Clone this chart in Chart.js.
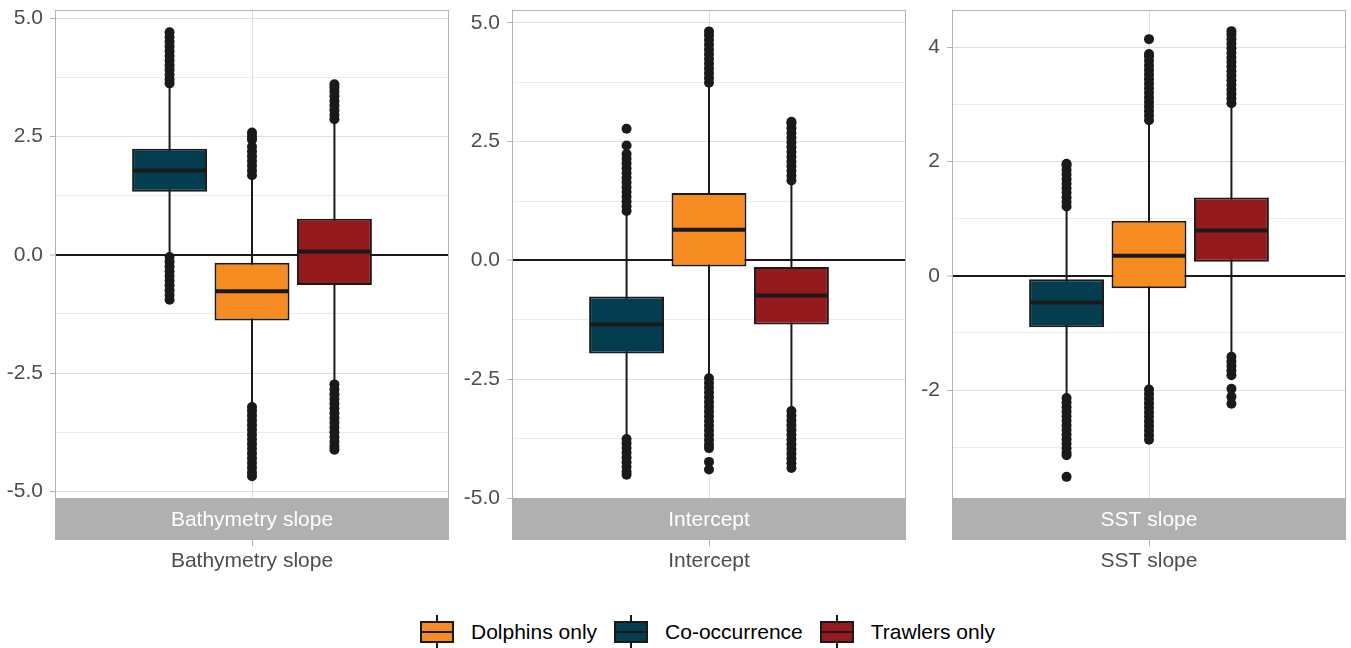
<!DOCTYPE html>
<html>
<head>
<meta charset="utf-8">
<script src="https://cdn.jsdelivr.net/npm/chart.js@4.4.1/dist/chart.umd.min.js"></script>
<style>
  body { margin: 0; background: #fff; width: 1351px; height: 648px; overflow: hidden; position: relative;
         font-family: "Liberation Sans", Arial, sans-serif; }
  canvas { position: absolute; top: 0; }
  #legend { position: absolute; top: 615px; left: 420px; display: flex; align-items: center; height: 34px; }
  .key { position: relative; width: 34px; height: 34px; margin-right: 17px; }
  .key .wh { position: absolute; left: 16px; width: 2px; top: 0; height: 34px; background: #1a1a1a; }
  .key .bx { position: absolute; left: 0; top: 6px; width: 30px; height: 18px; border: 2px solid #1a1a1a; }
  .key .md { position: absolute; left: 0; top: 16px; width: 34px; height: 2px; background: #1a1a1a; }
  .lab { font-size: 21px; color: #000; margin-right: 17px; }
</style>
</head>
<body>
<canvas id="p1" style="left:0px" width="455" height="590"></canvas>
<canvas id="p2" style="left:455px" width="456" height="590"></canvas>
<canvas id="p3" style="left:907px" width="444" height="590"></canvas>
<div id="legend"></div>
<script>
// groups, left to right inside each panel
const groups = ['Co-occurrence', 'Dolphins only', 'Trawlers only'];
const legendOrder = ['Dolphins only', 'Co-occurrence', 'Trawlers only'];
const panels = ['Bathymetry slope', 'Intercept', 'SST slope'];

// Bathymetry slope
const bathyQ1  = [1.33, -1.39, -0.64];
const bathyMed = [1.78, -0.77, 0.07];
const bathyQ3  = [2.24, -0.17, 0.76];
const bathyLo  = [-0.03, -3.20, -2.72];
const bathyHi  = [3.58, 1.66, 2.84];
const bathyOutCo = [3.62, 3.7, 3.8, 3.9, 4.0, 4.1, 4.2, 4.3, 4.4, 4.5, 4.6, 4.7,
                    -0.05, -0.15, -0.25, -0.35, -0.45, -0.55, -0.65, -0.75, -0.85, -0.95];
const bathyOutDol = [1.68, 1.78, 1.88, 1.98, 2.08, 2.18, 2.28, 2.43, 2.5, 2.58,
                     -3.22, -3.3, -3.4, -3.5, -3.6, -3.7, -3.8, -3.9, -4.0, -4.1, -4.2, -4.3, -4.4, -4.5, -4.6, -4.68];
const bathyOutTrawl = [2.86, 2.95, 3.05, 3.15, 3.25, 3.35, 3.45, 3.53, 3.6,
                       -2.74, -2.85, -2.95, -3.05, -3.15, -3.25, -3.35, -3.45, -3.55, -3.65, -3.75, -3.85, -3.95, -4.05, -4.12];

// Intercept
const interQ1  = [-1.96, -0.13, -1.35];
const interMed = [-1.35, 0.645, -0.74];
const interQ3  = [-0.76, 1.42, -0.14];
const interLo  = [-3.74, -2.46, -3.15];
const interHi  = [1.02, 3.72, 1.66];
const interOutCo = [1.04, 1.14, 1.24, 1.34, 1.44, 1.54, 1.64, 1.74, 1.84, 1.94, 2.04, 2.14, 2.24, 2.42, 2.77,
                    -3.76, -3.85, -3.95, -4.05, -4.15, -4.25, -4.35, -4.45, -4.51];
const interOutDol = [3.74, 3.84, 3.94, 4.04, 4.14, 4.24, 4.34, 4.44, 4.54, 4.64, 4.74, 4.82,
                     -2.48, -2.58, -2.68, -2.78, -2.88, -2.98, -3.08, -3.18, -3.28, -3.38, -3.48, -3.58, -3.68, -3.78, -3.88, -3.95, -4.24, -4.4];
const interOutTrawl = [1.68, 1.78, 1.88, 1.98, 2.08, 2.18, 2.28, 2.38, 2.48, 2.58, 2.68, 2.78, 2.88, 2.92,
                       -3.17, -3.27, -3.37, -3.47, -3.57, -3.67, -3.77, -3.87, -3.97, -4.07, -4.17, -4.27, -4.37];

// SST slope
const sstQ1  = [-0.90, -0.22, 0.245];
const sstMed = [-0.47, 0.35, 0.79];
const sstQ3  = [-0.06, 0.96, 1.37];
const sstLo  = [-2.12, -1.97, -1.40];
const sstHi  = [1.18, 2.70, 3.00];
const sstOutCo = [1.21, 1.29, 1.37, 1.45, 1.53, 1.61, 1.69, 1.77, 1.85, 1.93, 1.96,
                  -2.14, -2.22, -2.3, -2.38, -2.46, -2.54, -2.62, -2.7, -2.78, -2.86, -2.94, -3.02, -3.1, -3.14, -3.52];
const sstOutDol = [2.72, 2.8, 2.88, 2.96, 3.04, 3.12, 3.2, 3.28, 3.36, 3.44, 3.52, 3.6, 3.68, 3.76, 3.84, 3.88, 4.14,
                   -1.99, -2.07, -2.15, -2.23, -2.31, -2.39, -2.47, -2.55, -2.63, -2.71, -2.79, -2.87];
const sstOutTrawl = [3.02, 3.1, 3.18, 3.26, 3.34, 3.42, 3.5, 3.58, 3.66, 3.74, 3.82, 3.9, 3.98, 4.06, 4.14, 4.22, 4.28,
                     -1.42, -1.5, -1.58, -1.66, -1.74, -1.98, -2.12, -2.24];

// y tick labels
const ticksBathy = [-5, -2.5, 0, 2.5, 5];
const minorBathy = [-3.75, -1.25, 1.25, 3.75];
const ticksSst = [-2, 0, 2, 4];
const minorSst = [-3, -1, 1, 3];

const colors = {'Dolphins only': '#f68b21', 'Co-occurrence': '#043d4f', 'Trawlers only': '#951a1e'};
const ink = '#1a1a1a';
const xPos = [-1, 0, 1];
const FONT = '"Liberation Sans", Arial, sans-serif';

const panelDeco = {
  id: 'panelDeco',
  afterDraw(chart, args, opts) {
    const {ctx, chartArea: a} = chart;
    const cx = chart.scales.x.getPixelForValue(0);
    ctx.save();
    ctx.strokeStyle = '#b3b3b3';
    ctx.lineWidth = 1;
    ctx.strokeRect(a.left + 0.5, a.top + 0.5, a.right - a.left - 1, a.bottom - a.top);
    ctx.fillStyle = '#b0b0b0';
    ctx.fillRect(a.left, a.bottom, a.right - a.left, 42);
    ctx.beginPath();
    ctx.moveTo(Math.round(cx) + 0.5, a.bottom + 42);
    ctx.lineTo(Math.round(cx) + 0.5, a.bottom + 48);
    ctx.stroke();
    ctx.font = '21px ' + FONT;
    ctx.textAlign = 'center';
    ctx.textBaseline = 'middle';
    ctx.fillStyle = '#ffffff';
    ctx.fillText(opts.title, cx, a.bottom + 22);
    ctx.fillStyle = '#4d4d4d';
    ctx.fillText(opts.title, cx, a.bottom + 63);
    ctx.restore();
  }
};

function makePanel(id, title, yMin, yMax, majors, minors, fmt, axisW, padR, q1, med, q3, lo, hi, outs) {
  const datasets = [];
  groups.forEach((g, i) => {
    const p = xPos[i];
    datasets.push({type: 'line', data: [{x: p, y: lo[i]}, {x: p, y: hi[i]}],
      borderColor: ink, borderWidth: 2, pointRadius: 0, order: 5});
    datasets.push({type: 'scatter', data: outs[i].map(v => ({x: p, y: v})),
      backgroundColor: ink, borderWidth: 0, pointRadius: 5, order: 4});
    datasets.push({type: 'bar', data: [{x: p, y: [q1[i], q3[i]]}],
      backgroundColor: colors[g], borderColor: ink, borderWidth: 2, borderSkipped: false,
      grouped: false, categoryPercentage: 1, barPercentage: 0.909, order: 3});
    datasets.push({type: 'line', data: [{x: p - 0.44, y: med[i]}, {x: p + 0.44, y: med[i]}],
      borderColor: ink, borderWidth: 4, borderCapStyle: 'butt', pointRadius: 0, order: 2});
  });
  const all = majors.concat(minors).sort((a, b) => a - b);
  return new Chart(document.getElementById(id), {
    type: 'bar',
    data: {datasets},
    plugins: [panelDeco],
    options: {
      responsive: false,
      animation: false,
      layout: {padding: {top: 10, right: padR, left: 0, bottom: 0}},
      plugins: {legend: {display: false}, tooltip: {enabled: false}, panelDeco: {title}},
      scales: {
        x: {
          type: 'linear', min: -2.39, max: 2.39, offset: false,
          afterBuildTicks: s => { s.ticks = [{value: 0}]; },
          afterFit: s => { s.height = 92; s.paddingLeft = 0; s.paddingRight = 0; },
          ticks: {display: false},
          grid: {color: '#dedede', lineWidth: 1, drawTicks: false, offset: false},
          border: {display: false}
        },
        y: {
          type: 'linear', min: yMin, max: yMax,
          afterBuildTicks: s => { s.ticks = all.map(v => ({value: v})); },
          afterFit: s => { s.width = axisW; s.paddingTop = 0; s.paddingBottom = 0; },
          ticks: {
            autoSkip: false, padding: 7, color: '#4d4d4d',
            font: {family: FONT, size: 21},
            callback: v => majors.includes(v) ? fmt(v) : ''
          },
          grid: {
            color: c => c.tick.value === 0 ? ink : (majors.includes(c.tick.value) ? '#dedede' : '#ececec'),
            lineWidth: c => c.tick.value === 0 ? 2 : 1,
            tickColor: c => majors.includes(c.tick.value) ? '#b3b3b3' : 'rgba(0,0,0,0)',
            tickLength: 5, tickWidth: 1
          },
          border: {display: false}
        }
      }
    }
  });
}

const f1 = v => v.toFixed(1);
const f0 = v => String(v);
makePanel('p1', panels[0], -5.14, 5.17, ticksBathy, minorBathy, f1, 55, 6,
  bathyQ1, bathyMed, bathyQ3, bathyLo, bathyHi, [bathyOutCo, bathyOutDol, bathyOutTrawl]);
makePanel('p2', panels[1], -5.0, 5.27, ticksBathy, minorBathy, f1, 57, 4,
  interQ1, interMed, interQ3, interLo, interHi, [interOutCo, interOutDol, interOutTrawl]);
makePanel('p3', panels[2], -3.89, 4.65, ticksSst, minorSst, f0, 45, 5,
  sstQ1, sstMed, sstQ3, sstLo, sstHi, [sstOutCo, sstOutDol, sstOutTrawl]);

// legend
const leg = document.getElementById('legend');
legendOrder.forEach(g => {
  const k = document.createElement('div');
  k.className = 'key';
  k.innerHTML = '<div class="wh"></div><div class="bx" style="background:' + colors[g] + '"></div><div class="md"></div>';
  const t = document.createElement('div');
  t.className = 'lab';
  t.textContent = g;
  leg.appendChild(k);
  leg.appendChild(t);
});
</script>
</body>
</html>
